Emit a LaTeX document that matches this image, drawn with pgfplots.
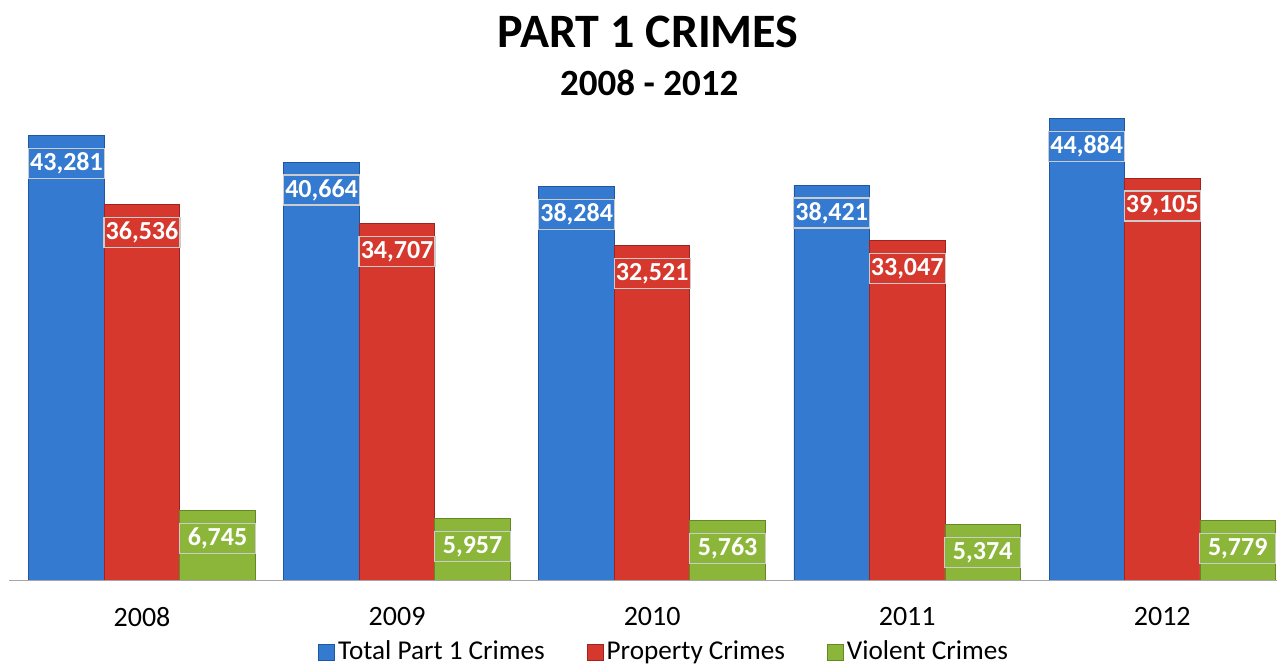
\documentclass[border=0pt]{standalone}
\usepackage{fontspec}
\setmainfont{Carlito}
\usepackage{pgfplots}
\pgfplotsset{compat=1.18}
\definecolor{cBlue}{RGB}{52,122,208}
\definecolor{cBlueD}{RGB}{32,88,160}
\definecolor{cRed}{RGB}{214,56,46}
\definecolor{cRedD}{RGB}{160,36,30}
\definecolor{cGreen}{RGB}{140,182,58}
\definecolor{cGreenD}{RGB}{100,136,36}
\begin{document}
\begin{tikzpicture}
\begin{axis}[
  scale only axis, width=633.8pt, height=240pt,
  xmin=-0.52, xmax=4.45, ymin=0, ymax=46700,
  axis x line*=bottom, axis y line=none,
  x axis line style={draw=black!35, -},
  xtick={0,1,2,3,4}, xticklabels={2008,2009,2010,2011,2012},
  major tick length=0pt, ytick=\empty,
  xticklabel style={font=\fontsize{14}{14}\selectfont, anchor=center, yshift=-18.5pt},
  ybar, bar width=0.296,
  nodes near coords={\pgfmathprintnumber[fixed,precision=0,1000 sep={,},assume math mode=true]{\pgfplotspointmeta}},
  every node near coord/.append style={font=\bfseries\fontsize{13}{13}\selectfont, text=white, anchor=center, yshift=-14pt, minimum width=38pt, minimum height=15pt, inner sep=0.5pt, draw=white!80!black, line width=0.6pt},
  legend columns=3,
  legend style={at={(0.517,0)}, anchor=center, yshift=-36pt, draw=none, fill=none, font=\fontsize{13.6}{13.6}\selectfont, /tikz/every even column/.append style={column sep=19.5pt}, inner xsep=0pt, inner ysep=0pt, nodes={inner xsep=1.5pt, inner ysep=0.5pt}},
  legend image code/.code={\fill[#1] (0pt,-4pt) rectangle (8pt,4pt);},
]
\addplot[bar shift=-0.296, fill=cBlue, draw=cBlueD, every node near coord/.append style={fill=cBlue}] coordinates {(0,43281) (1,40664) (2,38284) (3,38421) (4,44884)};
\addplot[bar shift=0, fill=cRed, draw=cRedD, every node near coord/.append style={fill=cRed}] coordinates {(0,36536) (1,34707) (2,32521) (3,33047) (4,39105)};
\addplot[bar shift=0.296, fill=cGreen, draw=cGreenD, every node near coord/.append style={fill=cGreen}] coordinates {(0,6745) (1,5957) (2,5763) (3,5374) (4,5779)};
\legend{Total Part 1 Crimes, Property Crimes, Violent Crimes}
\end{axis}
\node[font=\bfseries\fontsize{24}{24}\selectfont] at ([xshift=2.5pt,yshift=34pt]current axis.north) {PART 1 CRIMES};
\node[font=\bfseries\fontsize{18.5}{18.5}\selectfont] at ([xshift=3pt,yshift=8.5pt]current axis.north) {2008 - 2012};
\pgfresetboundingbox
\useasboundingbox ([xshift=-4.7pt,yshift=-43.5pt]current axis.south west) rectangle ([xshift=0.5pt,yshift=50pt]current axis.north east);
\end{tikzpicture}
\end{document}
